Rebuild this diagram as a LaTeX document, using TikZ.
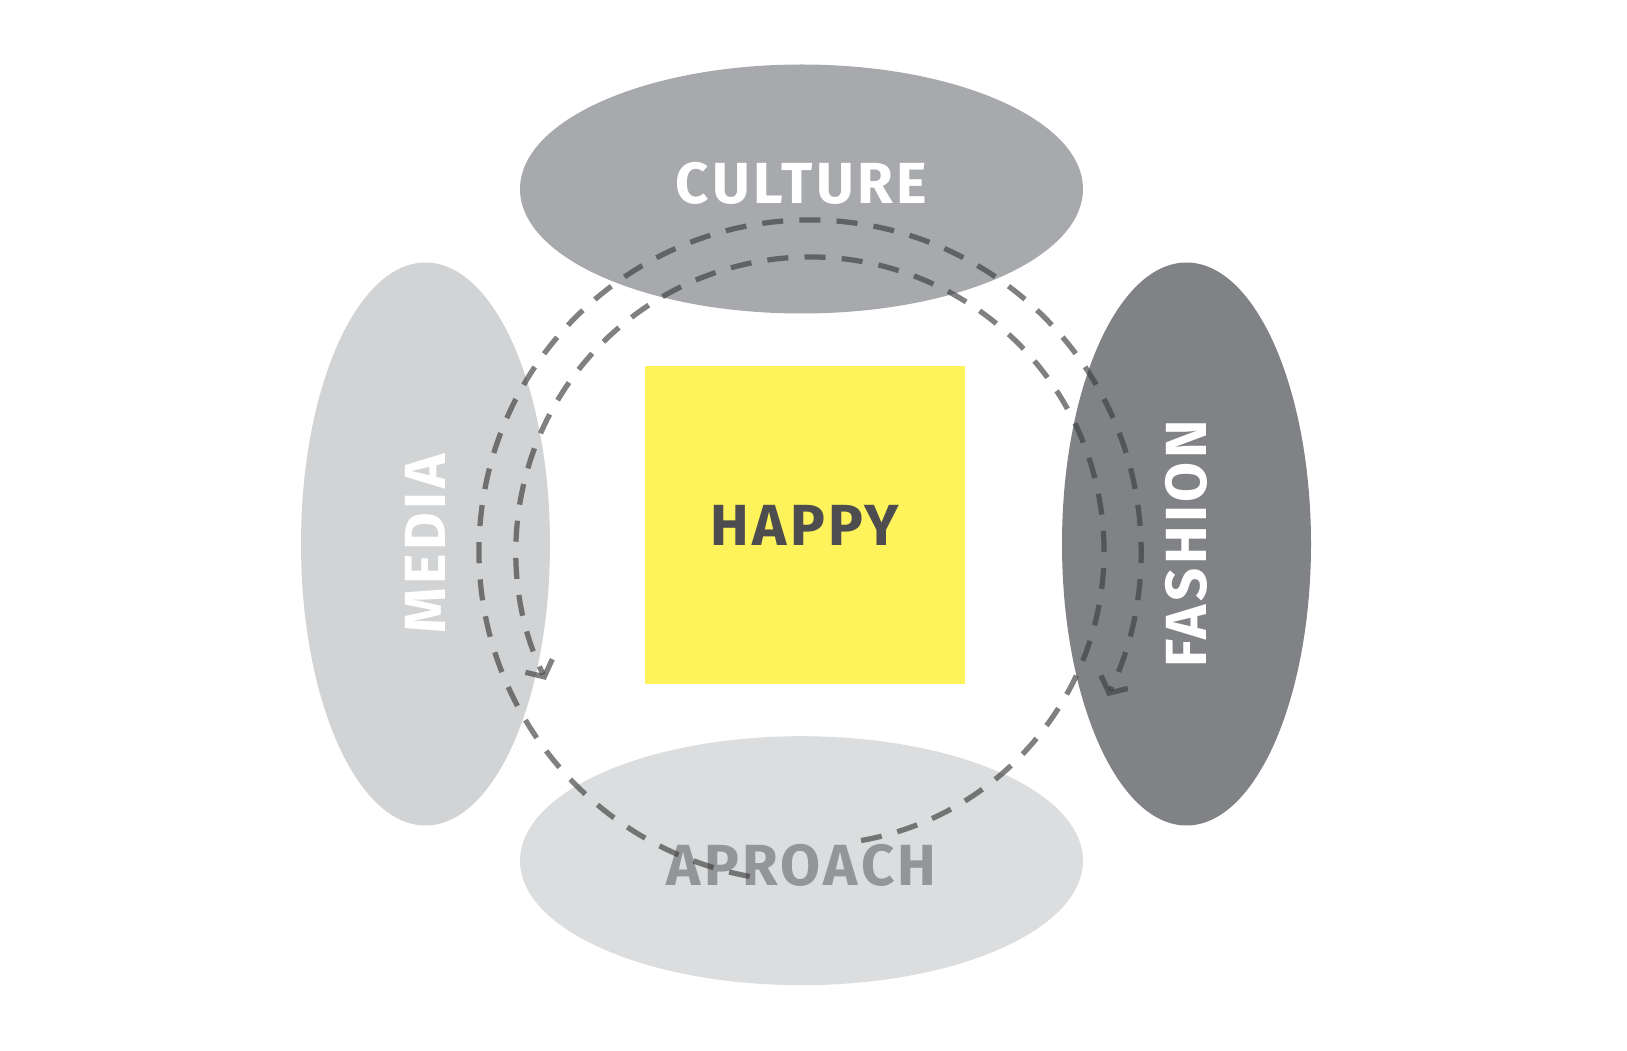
\documentclass[tikz,border=0pt]{standalone}
\usepackage{fontspec}
\usepackage{tikz}
\usetikzlibrary{shapes.geometric,arrows.meta,calc}
\newfontfamily\labelfont[LetterSpace=6]{Fira Sans}
\definecolor{cultureGray}{HTML}{A7A9AC}
\definecolor{mediaGray}{HTML}{D1D3D4}
\definecolor{aproachGray}{HTML}{DCDDDE}
\definecolor{fashionGray}{HTML}{808285}
\definecolor{happyYellow}{HTML}{FFF35C}
\definecolor{happyText}{HTML}{4D4D4F}
\definecolor{aproachText}{HTML}{939598}
\definecolor{ringGray}{HTML}{3E3E3E}

\begin{document}
\begin{tikzpicture}[>=stealth, thick]
        \tikzset{
            blob/.style={ellipse, minimum width=5.63cm, minimum height=2.49cm, inner sep=0pt, align=center, font=\labelfont\bfseries\fontsize{16.5}{18}\selectfont, text=white},
            core/.style={rectangle, fill=happyYellow, minimum width=3.20cm, minimum height=3.18cm, inner sep=0pt, align=center, font=\labelfont\bfseries\fontsize{16.5}{18}\selectfont, text=happyText},
            loop/.style={draw=ringGray, draw opacity=0.66, line width=1.5pt, dash pattern=on 6pt off 4.6pt, -{Straight Barb[length=3.5pt, width=8.5pt]}}
        }
        \useasboundingbox (0,0) rectangle (16.27,10.50);
        
        % Topics
        \node [blob, fill=cultureGray, text depth=0.13cm] (culture) at (8.015, 8.61) {CULTURE};
        \node [blob, fill=aproachGray, text=aproachText, text height=0.50cm] (aproach) at (8.015, 1.893) {APROACH};
        \node [blob, fill=mediaGray, rotate=90] (media) at (4.255, 5.06) {MEDIA};
        \node [blob, fill=fashionGray, rotate=90] (fashion) at (11.865, 5.06) {FASHION};
        
        % Center
        \node [core] (happy) at (8.05, 5.25) {HAPPY};
        
        % Cycle arrows
        \coordinate (ring) at (8.10, 4.99);
        \coordinate (outer start) at ($(ring)+(259.5:3.31)$);
        \coordinate (inner start) at ($(ring)+(-80:2.94)$);
        \draw [loop] (outer start) arc [start angle=259.5, end angle=-26, radius=3.31];
        \draw [loop] (inner start) arc [start angle=-80, end angle=206, radius=2.94];
        
    \end{tikzpicture}
\end{document}
